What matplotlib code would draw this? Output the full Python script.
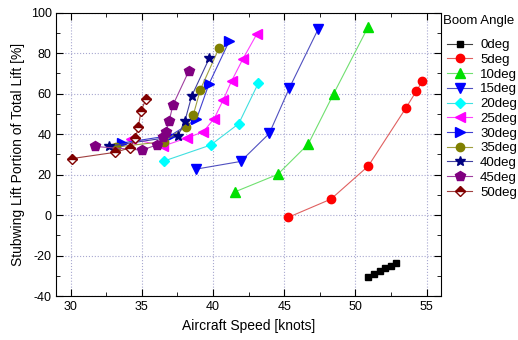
import matplotlib
matplotlib.use("Agg")
import matplotlib.pyplot as plt
from matplotlib.ticker import MultipleLocator

plt.rcParams['font.family'] = ['Liberation Sans', 'DejaVu Sans']
plt.rcParams['axes.unicode_minus'] = False

# values (speed in knots, lift share in %)
x_0 = [50.9, 51.3, 51.7, 52.1, 52.5, 52.85]
y_0 = [-30.5, -29.0, -27.7, -26.3, -24.9, -23.5]
x_5 = [45.28, 48.28, 50.9, 53.53, 54.27, 54.69]
y_5 = [-1.1, 7.9, 24.2, 52.7, 61.1, 66.0]
x_10 = [41.54, 44.54, 46.69, 48.47, 50.9]
y_10 = [11.5, 20.1, 35.1, 59.9, 93.0]
x_15 = [38.8, 41.94, 43.95, 45.35, 47.39]
y_15 = [22.7, 26.5, 40.3, 62.6, 91.9]
x_20 = [36.55, 39.83, 41.8, 43.17]
y_20 = [26.7, 34.6, 45.1, 65.0]
x_25 = [34.24, 36.5, 38.15, 39.31, 40.08, 40.71, 41.3, 42.08, 43.06]
y_25 = [37.8, 34.1, 38.1, 41.1, 47.7, 56.8, 66.2, 76.9, 89.2]
x_30 = [33.58, 37.01, 38.83, 39.71, 41.15]
y_30 = [35.6, 39.3, 47.3, 64.7, 86.1]
x_35 = [33.15, 36.55, 38.1, 38.61, 39.11, 40.41]
y_35 = [33.6, 36.3, 43.6, 49.4, 62.0, 82.3]
x_40 = [32.69, 37.53, 38.02, 38.5, 39.73]
y_40 = [34.1, 39.0, 46.4, 58.8, 77.4]
x_45 = [31.71, 34.99, 36.04, 36.5, 36.69, 36.92, 37.18, 38.31]
y_45 = [33.9, 32.1, 34.6, 38.8, 40.8, 46.6, 54.3, 71.3]
x_50 = [30.07, 33.11, 34.16, 34.55, 34.75, 34.95, 35.3]
y_50 = [27.9, 31.0, 33.2, 37.9, 43.7, 51.6, 57.5]

labels = ['0deg', '5deg', '10deg', '15deg', '20deg', '25deg',
          '30deg', '35deg', '40deg', '45deg', '50deg']
xs = [x_0, x_5, x_10, x_15, x_20, x_25, x_30, x_35, x_40, x_45, x_50]
ys = [y_0, y_5, y_10, y_15, y_20, y_25, y_30, y_35, y_40, y_45, y_50]
colors = ['#000000', '#ff0000', '#00e000', '#0000ff', '#00ffff', '#ff00ff',
          '#0000ff', '#808000', '#000080', '#800080', '#800000']
line_colors = ['#404040', '#e06060', '#70e070', '#5050c0', '#40e0e0', '#ff40ff',
               '#4040d0', '#a0a040', '#4040a0', '#a040a0', '#a04040']
markers = ['s', 'o', '^', 'v', 'D', '<', '>', 'o', '*', 'p', 'D']
sizes = [5, 6, 6.5, 6.5, 5, 6.5, 6.5, 6, 7, 7, 5.5]

fig = plt.figure(figsize=(5.18, 3.40), dpi=100)
ax = fig.add_axes([0.109, 0.129, 0.742, 0.834])

for i in range(len(labels)):
    kw = {}
    if i == 10:
        kw = dict(fillstyle='top', markerfacecoloralt='white')
    ax.plot(xs[i], ys[i], color=line_colors[i], lw=0.8, marker=markers[i],
            ms=sizes[i], mfc=colors[i], mec=colors[i], label=labels[i], **kw)

ax.set_xlim(29, 56)
ax.set_ylim(-40, 100)
ax.xaxis.set_major_locator(MultipleLocator(5))
ax.xaxis.set_minor_locator(MultipleLocator(2.5))
ax.yaxis.set_major_locator(MultipleLocator(20))
ax.yaxis.set_minor_locator(MultipleLocator(10))
ax.tick_params(which='both', direction='in', top=True, right=True, labelsize=9)
ax.tick_params(which='major', length=5)
ax.tick_params(which='minor', length=3)
ax.grid(True, which='major', linestyle=':', color='#a8a8d0', lw=0.8)
ax.set_axisbelow(True)

ax.set_xlabel('Aircraft Speed [knots]', fontsize=10)
ax.set_ylabel('Stubwing Lift Portion of Total Lift [%]', fontsize=10)

# legend title drawn separately so it can sit close to the first entry
fig.text(0.855, 1 - 21 / 340, 'Boom Angle', fontsize=9.5, ha='left', va='center')
fig.legend(loc='upper left', bbox_to_anchor=(0.848, 1 - 31 / 340), frameon=False,
           fontsize=9.5, handlelength=1.9, labelspacing=0.19, handletextpad=0.6,
           borderpad=0.1)

fig.savefig('out.png', dpi=100)
